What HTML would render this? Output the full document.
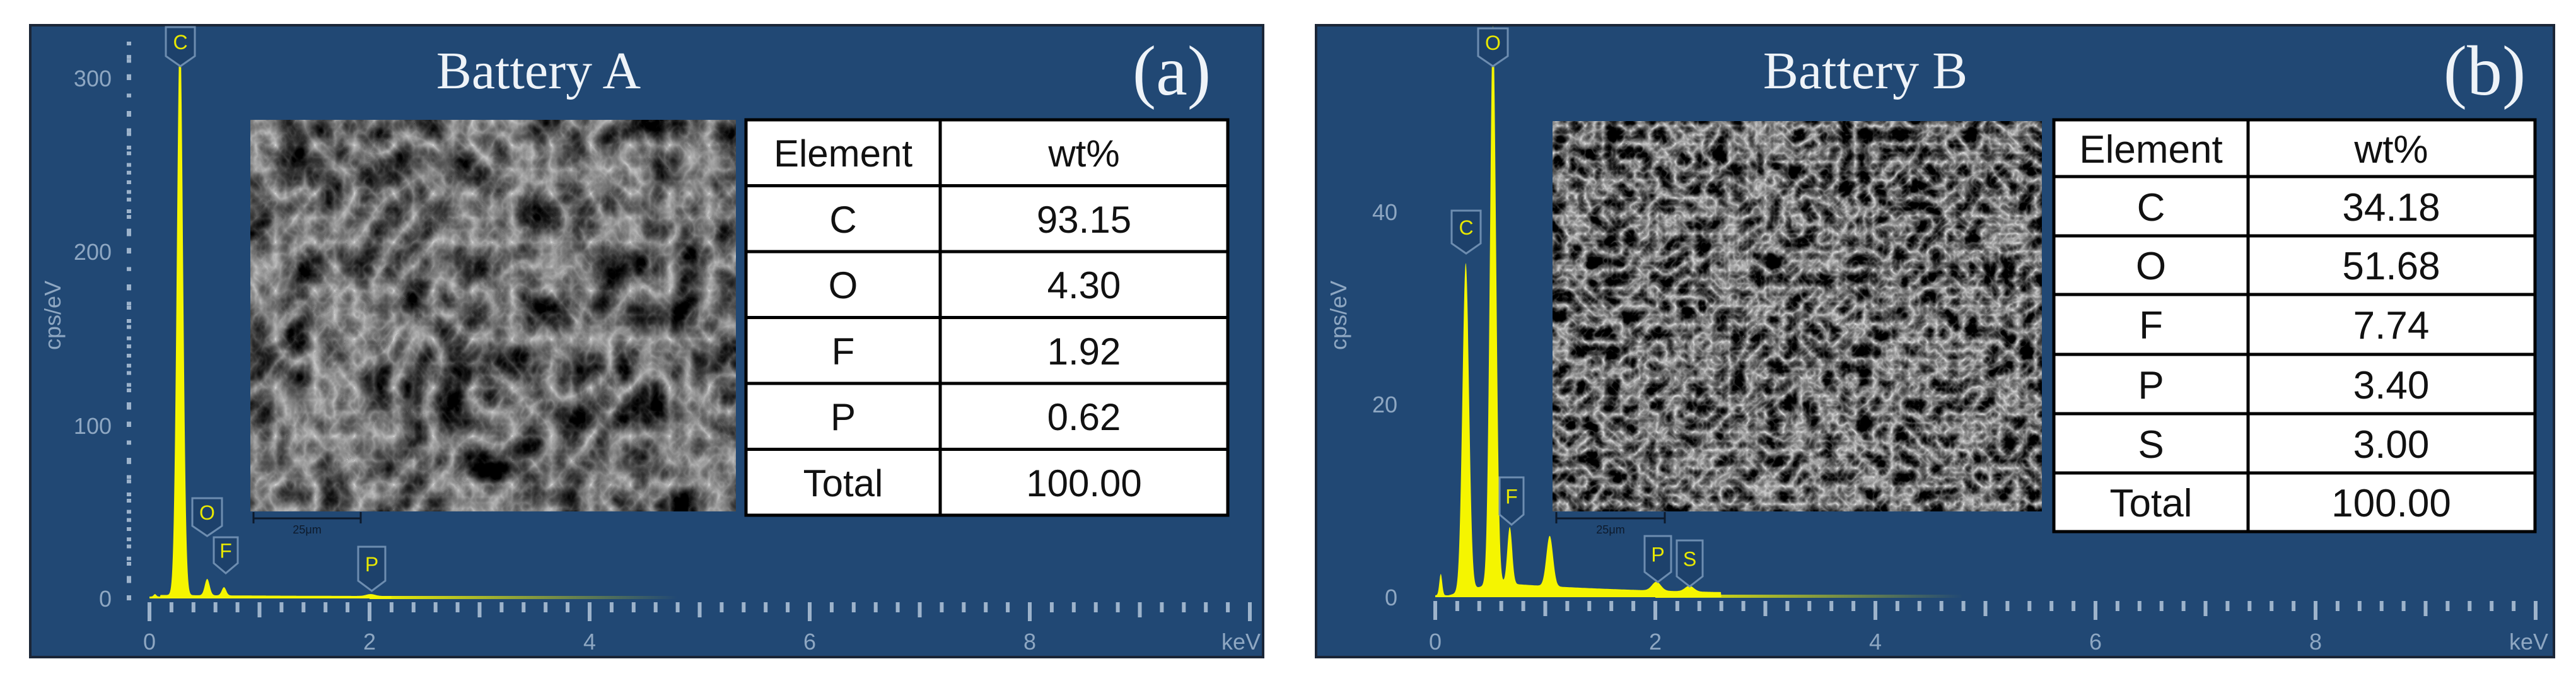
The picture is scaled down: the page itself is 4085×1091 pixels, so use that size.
<!DOCTYPE html>
<html><head><meta charset="utf-8"><style>
html,body{margin:0;padding:0;background:#fff}
svg{display:block}
.tl{font-family:"Liberation Sans",sans-serif;fill:#8ea7c2;font-size:36px}
.tt{font-family:"Liberation Serif",serif;fill:#eef3f8}
.tb{font-family:"Liberation Sans",sans-serif;fill:#111;text-anchor:middle}
.pk{font-family:"Liberation Sans",sans-serif;fill:#e8e800;font-size:32px;text-anchor:middle}
</style></head><body>
<svg id="s" width="4085" height="1091" viewBox="0 0 4085 1091" xmlns="http://www.w3.org/2000/svg">
<defs>
<filter id="semA" x="0" y="0" width="1" height="1" color-interpolation-filters="sRGB">
<feTurbulence type="turbulence" baseFrequency="0.016 0.013" numOctaves="4" seed="7"/>
<feColorMatrix type="matrix" values="-1.1 -0.2 0 0 0.82  -1.1 -0.2 0 0 0.82  -1.1 -0.2 0 0 0.82  0 0 0 0 1"/>
</filter>
<filter id="semB" x="0" y="0" width="1" height="1" color-interpolation-filters="sRGB">
<feTurbulence type="turbulence" baseFrequency="0.035" numOctaves="3" seed="11"/>
<feColorMatrix type="matrix" values="-1.4 -0.3 0 0 0.9  -1.4 -0.3 0 0 0.9  -1.4 -0.3 0 0 0.9  0 0 0 0 1"/>
</filter>
</defs>
<rect x="48" y="40" width="1955" height="1002" fill="#214874" stroke="#1b2637" stroke-width="4"/>
<rect x="2087" y="40" width="1963" height="1002" fill="#214874" stroke="#1b2637" stroke-width="4"/>
<g id="gA"></g><g id="gB"></g>

<text class="tt" x="854" y="140" font-size="84" text-anchor="middle">Battery A</text>
<text class="tt" x="1858" y="150" font-size="112" text-anchor="middle">(a)</text>
<text class="tl" x="177" y="137" text-anchor="end">300</text>
<text class="tl" x="177" y="412" text-anchor="end">200</text>
<text class="tl" x="177" y="688" text-anchor="end">100</text>
<text class="tl" x="177" y="962" text-anchor="end">0</text>
<text class="tl" transform="translate(96,500) rotate(-90)" text-anchor="middle" font-size="32">cps/eV</text>
<text class="tl" x="237" y="1030" text-anchor="middle">0</text>
<text class="tl" x="586" y="1030" text-anchor="middle">2</text>
<text class="tl" x="935" y="1030" text-anchor="middle">4</text>
<text class="tl" x="1284" y="1030" text-anchor="middle">6</text>
<text class="tl" x="1633" y="1030" text-anchor="middle">8</text>
<text class="tl" x="1968" y="1030" text-anchor="middle">keV</text>
<rect x="397" y="190" width="770" height="621" filter="url(#semA)"/>
<path d="M402 812 V830 M402 822 H572 M572 812 V830" stroke="#0d1a2c" stroke-width="3" fill="none"/>
<text x="487" y="846" font-family="Liberation Sans,sans-serif" font-size="18" fill="#0d1a2c" text-anchor="middle">25μm</text>
<rect x="1183" y="190" width="764" height="627" fill="#fff" stroke="#000" stroke-width="5"/>
<path d="M1491 190 V817 M1183 294.5 H1947 M1183 399 H1947 M1183 503.5 H1947 M1183 608 H1947 M1183 712.5 H1947" stroke="#000" stroke-width="5"/>
<g class="tb" font-size="60">
<text x="1337" y="264">Element</text><text x="1719" y="264">wt%</text>
<text x="1337" y="369">C</text><text x="1719" y="369">93.15</text>
<text x="1337" y="473">O</text><text x="1719" y="473">4.30</text>
<text x="1337" y="578">F</text><text x="1719" y="578">1.92</text>
<text x="1337" y="682">P</text><text x="1719" y="682">0.62</text>
<text x="1337" y="787">Total</text><text x="1719" y="787">100.00</text>
</g>

<text class="tt" x="2958" y="140" font-size="84" text-anchor="middle">Battery B</text>
<text class="tt" x="3940" y="150" font-size="112" text-anchor="middle">(b)</text>
<text class="tl" x="2216" y="349" text-anchor="end">40</text>
<text class="tl" x="2216" y="654" text-anchor="end">20</text>
<text class="tl" x="2216" y="960" text-anchor="end">0</text>
<text class="tl" transform="translate(2135,500) rotate(-90)" text-anchor="middle" font-size="32">cps/eV</text>
<text class="tl" x="2276" y="1030" text-anchor="middle">0</text>
<text class="tl" x="2625" y="1030" text-anchor="middle">2</text>
<text class="tl" x="2974" y="1030" text-anchor="middle">4</text>
<text class="tl" x="3323" y="1030" text-anchor="middle">6</text>
<text class="tl" x="3672" y="1030" text-anchor="middle">8</text>
<text class="tl" x="4010" y="1030" text-anchor="middle">keV</text>
<rect x="2462" y="192" width="776" height="619" filter="url(#semB)"/>
<path d="M2468 812 V830 M2468 822 H2640 M2640 812 V830" stroke="#0d1a2c" stroke-width="3" fill="none"/>
<text x="2554" y="846" font-family="Liberation Sans,sans-serif" font-size="18" fill="#0d1a2c" text-anchor="middle">25μm</text>
<rect x="3257" y="190" width="763" height="653" fill="#fff" stroke="#000" stroke-width="5"/>
<path d="M3565 190 V843 M3257 280 H4020 M3257 374 H4020 M3257 467 H4020 M3257 562 H4020 M3257 656 H4020 M3257 750 H4020" stroke="#000" stroke-width="5"/>
<g class="tb" font-size="62">
<text x="3411" y="258">Element</text><text x="3792" y="258">wt%</text>
<text x="3411" y="350">C</text><text x="3792" y="350">34.18</text>
<text x="3411" y="443">O</text><text x="3792" y="443">51.68</text>
<text x="3411" y="537">F</text><text x="3792" y="537">7.74</text>
<text x="3411" y="632">P</text><text x="3792" y="632">3.40</text>
<text x="3411" y="726">S</text><text x="3792" y="726">3.00</text>
<text x="3411" y="819">Total</text><text x="3792" y="819">100.00</text>
</g>
<g id="labels"></g>
</svg>
<script>
var NS="http://www.w3.org/2000/svg";
function el(p,t,a){var e=document.createElementNS(NS,t);for(var k in a)e.setAttribute(k,a[k]);p.appendChild(e);return e;}
function axes(g,x0,y0,ytop,ystep){
  for(var i=0;i<=50;i++){var x=x0+i*34.9;var maj=(i%10==0);var mid=(i%5==0);
    el(g,'rect',{x:x-3,y:y0+6,width:6,height:maj?30:(mid?24:16),fill:'#9db3cb'});}
  for(var y=y0;y>=ytop;y-=ystep){el(g,'rect',{x:201,y:y-3,width:7,height:6,fill:'#9db3cb'});}
}
function spec(g,x0,y0,peaks,cont,fadeEnd){
  var d='M'+x0+' '+y0;
  for(var k=0;k<=fadeEnd;k+=0.004){
    var v=cont(k);peaks.forEach(function(p){v+=p[1]*Math.exp(-Math.pow((k-p[0])/p[2],2)/2);});
    d+=' L'+(x0+k*174.5).toFixed(1)+' '+(y0-3-v).toFixed(1);
  }
  d+=' L'+(x0+fadeEnd*174.5)+' '+y0+' Z';
  el(g,'path',{d:d,fill:'#f5f500'});
  var gr=el(g,'linearGradient',{id:'fd'+x0,x1:0,x2:1,y1:0,y2:0});
  el(gr,'stop',{offset:0,'stop-color':'#f5f500'});el(gr,'stop',{offset:1,'stop-color':'#f5f500','stop-opacity':0});
  el(g,'rect',{x:x0+2*174.5,y:y0-4,width:2.8*174.5,height:5,fill:'url(#fd'+x0+')'});
}
function lab(g,x1,x2,y1,y2,t){
  var cx=(x1+x2)/2,yb=y2-16;
  el(g,'path',{d:'M'+x1+' '+y1+' H'+x2+' V'+yb+' L'+cx+' '+y2+' L'+x1+' '+yb+' Z',fill:'#1d416b',stroke:'#6d8db0','stroke-width':3});
  var tx=el(g,'text',{x:cx,y:y1+(yb-y1)/2+12,'class':'pk'});tx.textContent=t;
}
var gA=document.getElementById('gA'),gB=document.getElementById('gB'),L=document.getElementById('labels');
axes(gA,237,949,60,27.5);axes(gB,2276,947,60,30.6);
spec(gA,237,949,[[0.05,4,0.012],[0.277,902,0.028],[0.525,26,0.022],[0.677,13,0.02],[2.01,3,0.04]],function(k){return k<0.1?0:2.5*Math.exp(-(k-0.1)/2);},2.2);
spec(gB,2276,947,[[0.05,34,0.013],[0.277,520,0.03],[0.525,885,0.028],[0.677,90,0.022],[1.04,80,0.03],[2.01,14,0.04],[2.31,9,0.04]],function(k){if(k<0.12)return 0;if(k<0.55)return 20*(k-0.12)/0.43;return 20*Math.exp(-(k-0.55)/1.5);},2.6);
lab(L,263,309,43,105,'C');lab(L,305,352,790,850,'O');lab(L,339,377,852,909,'F');lab(L,568,611,867,937,'P');
lab(L,2344,2391,45,105,'O');lab(L,2302,2348,334,402,'C');lab(L,2378,2416,757,832,'F');lab(L,2608,2650,850,923,'P');lab(L,2659,2700,857,930,'S');
</script>
</body></html>
